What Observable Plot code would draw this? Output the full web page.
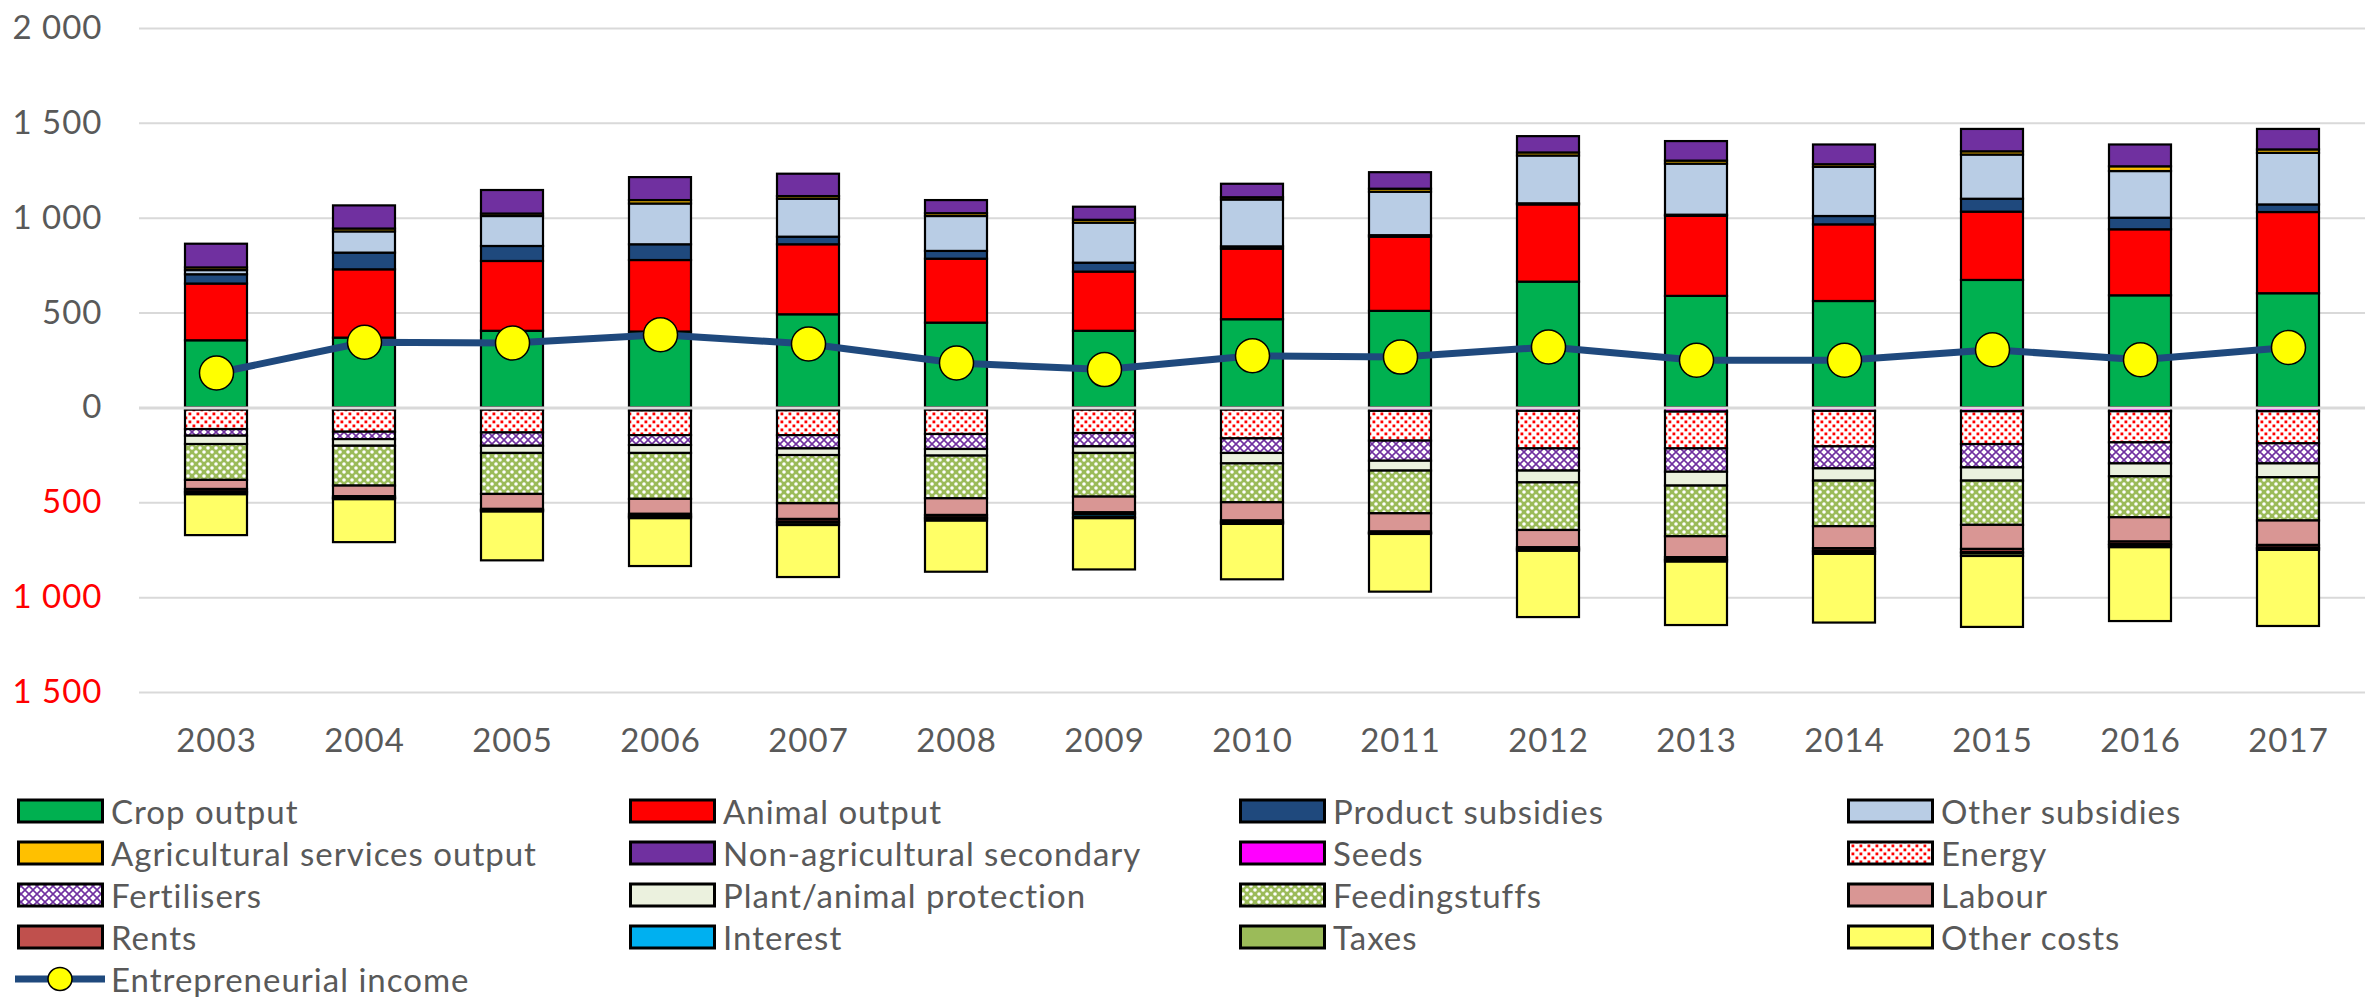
<!DOCTYPE html>
<html><head><meta charset="utf-8">
<script src="https://cdn.jsdelivr.net/npm/d3@7"></script>
<script src="https://cdn.jsdelivr.net/npm/@observablehq/plot@0.6"></script>
<style>
body{margin:0;background:#fff;font-family:Lato, sans-serif;}
#chart svg{display:block}
#legend{position:relative;height:227px;width:2369px;color:#595959;font-size:33px;letter-spacing:1px;font-family:Lato, sans-serif}
.item{position:absolute;height:42px;white-space:nowrap}
.item svg{position:absolute;left:0;top:8px}
.item span{position:absolute;left:94px;top:0;line-height:42px}
</style></head>
<body><div id="chart"></div><div id="legend"></div>
<script>
const years = [2003,2004,2005,2006,2007,2008,2009,2010,2011,2012,2013,2014,2015,2016,2017];

// Outputs (positive stack)
const cropOutput      = [354,368,404,400,491,447,404,465,509,663,588,561,672,591,602];
const animalOutput    = [299,360,368,377,369,337,312,372,391,407,422,404,360,348,428];
const productSubsidies= [49,88,79,83,40,41,47,12,8,6,6,44,68,61,40];
const otherSubsidies  = [22,112,158,215,200,184,211,247,229,252,269,259,233,246,272];
const agriServices    = [14,15,13,18,14,15,15,12,16,16,16,14,17,25,18];
const nonAgriSecondary= [125,122,124,121,118,69,69,71,87,86,103,104,118,115,108];

// Costs (negative stack, given as positive amounts)
const seeds           = [12,12,12,16,15,12,12,12,18,18,22,18,20,20,20];
const energy          = [102,116,120,130,131,128,123,151,157,198,194,187,173,164,169];
const fertilisers     = [35,39,70,52,70,79,70,77,106,117,123,116,123,111,106];
const protection      = [44,35,38,42,35,35,35,55,52,62,73,65,70,68,73];
const feedingstuffs   = [189,210,216,242,254,225,230,205,225,251,267,240,233,216,228];
const labour          = [48,56,79,79,83,88,83,96,96,91,110,116,127,128,129];
const rents           = [13,7,6,10,14,13,9,8,6,8,11,13,16,13,14];
const interest        = [5,3,3,5,6,6,14,4,3,4,5,6,7,6,4];
const taxes           = [10,6,5,8,12,11,8,6,4,7,8,11,14,11,8];
const otherCosts      = [215,226,257,252,274,269,270,292,304,349,334,362,374,389,401];

// Line
const entrepreneurialIncome = [184,346,342,386,337,237,202,275,268,321,251,251,307,254,319];

const yTicksPos = [0,500,1000,1500,2000];
const yTicksNeg = [-500,-1000,-1500];

const seriesDefs = [
  ["Crop output", cropOutput, 1, "#00B050"],
  ["Animal output", animalOutput, 1, "#FF0000"],
  ["Product subsidies", productSubsidies, 1, "#1F497D"],
  ["Other subsidies", otherSubsidies, 1, "#B9CDE5"],
  ["Agricultural services output", agriServices, 1, "#FFC000"],
  ["Non-agricultural secondary", nonAgriSecondary, 1, "#7030A0"],
  ["Seeds", seeds, -1, "#FF00FF"],
  ["Energy", energy, -1, "url(#pat-energy)"],
  ["Fertilisers", fertilisers, -1, "url(#pat-fert)"],
  ["Plant/animal protection", protection, -1, "#EBF1DE"],
  ["Feedingstuffs", feedingstuffs, -1, "url(#pat-feed)"],
  ["Labour", labour, -1, "#D99694"],
  ["Rents", rents, -1, "#C0504D"],
  ["Interest", interest, -1, "#00B0F0"],
  ["Taxes", taxes, -1, "#9BBB59"],
  ["Other costs", otherCosts, -1, "#FFFF66"]
];
const seriesNames = seriesDefs.map(d => d[0]);
const seriesFills = seriesDefs.map(d => d[3]);

const table = [];
years.forEach((yr, i) => {
  seriesDefs.forEach(([name, arr, sign]) => table.push({year: yr, series: name, value: sign * arr[i]}));
});
const incomeData = years.map((yr, i) => ({year: yr, value: entrepreneurialIncome[i]}));

const fmt = d => d3.format(",")(Math.abs(d)).replace(/,/g, " ");

const svg = Plot.plot({
  width: 2369, height: 770,
  marginLeft: 139, marginRight: 4, marginTop: 28, marginBottom: 78,
  style: {fontFamily: "Lato, sans-serif", fontSize: "33px", letterSpacing: "1px", color: "#595959", background: "#fff"},
  x: {type: "band", domain: years, paddingInner: 0.58, paddingOuter: 0.29, label: null},
  y: {domain: [-1500, 2000], label: null},
  color: {type: "ordinal", domain: seriesNames, range: seriesFills},
  marks: [
    Plot.gridY([...yTicksNeg, ...yTicksPos], {stroke: "#d9d9d9", strokeOpacity: 1, strokeWidth: 2}),
    Plot.barY(table, Plot.stackY({x: "year", y: "value", fill: "series", order: seriesNames, stroke: "black", strokeWidth: 2.2})),
    Plot.ruleY([0], {stroke: "#d9d9d9", strokeWidth: 3}),
    Plot.lineY(incomeData, {x: "year", y: "value", stroke: "#1F497D", strokeWidth: 7}),
    Plot.dot(incomeData, {x: "year", y: "value", r: 17, fill: "#FFFF00", stroke: "black", strokeWidth: 1.5}),
    Plot.axisY(yTicksPos, {tickSize: 0, tickPadding: 37, tickFormat: fmt, fill: "#595959", label: null}),
    Plot.axisY(yTicksNeg, {tickSize: 0, tickPadding: 37, tickFormat: fmt, fill: "#FF0000", label: null}),
    Plot.axisX({tickSize: 0, tickPadding: 36, tickFormat: d => String(d), fill: "#595959", label: null})
  ]
});

const defs = d3.select(svg).insert("defs", ":first-child");
// Energy: red dots on white
let p = defs.append("pattern").attr("id", "pat-energy").attr("patternUnits", "userSpaceOnUse").attr("width", 8).attr("height", 8);
p.append("rect").attr("width", 8).attr("height", 8).attr("fill", "#fff");
p.append("rect").attr("x", 0.5).attr("y", 0.5).attr("width", 2.8).attr("height", 2.8).attr("fill", "#FF0000");
p.append("rect").attr("x", 4.5).attr("y", 4.5).attr("width", 2.8).attr("height", 2.8).attr("fill", "#FF0000");
// Fertilisers: purple lattice on white
p = defs.append("pattern").attr("id", "pat-fert").attr("patternUnits", "userSpaceOnUse").attr("width", 8).attr("height", 8);
p.append("rect").attr("width", 8).attr("height", 8).attr("fill", "#fff");
p.append("path").attr("d", "M0,0L8,8M8,0L0,8").attr("stroke", "#7030A0").attr("stroke-width", 1.6);
// Feedingstuffs: green with white dots
p = defs.append("pattern").attr("id", "pat-feed").attr("patternUnits", "userSpaceOnUse").attr("width", 8).attr("height", 8);
p.append("rect").attr("width", 8).attr("height", 8).attr("fill", "#9BBB59");
[[0,0],[8,0],[0,8],[8,8],[4,4]].forEach(([cx, cy]) => p.append("circle").attr("cx", cx).attr("cy", cy).attr("r", 1.8).attr("fill", "#fff"));

document.getElementById("chart").appendChild(svg);

// Legend
const legend = d3.select("#legend");
const colLeft = [17, 629, 1239, 1847];
const rowCenter = [811, 853, 895, 937, 979].map(v => v - 770);
seriesDefs.forEach(([name, , , fill], i) => {
  const row = Math.floor(i / 4), col = i % 4;
  const it = legend.append("div").attr("class", "item").style("left", colLeft[col] + "px").style("top", (rowCenter[row] - 21) + "px");
  const s = it.append("svg").attr("width", 90).attr("height", 26);
  s.append("rect").attr("x", 1.5).attr("y", 2).attr("width", 84).attr("height", 22).attr("fill", fill).attr("stroke", "black").attr("stroke-width", 3);
  it.append("span").text(name);
});
{
  const it = legend.append("div").attr("class", "item").style("left", (colLeft[0] - 2) + "px").style("top", (rowCenter[4] - 21) + "px");
  const s = it.append("svg").attr("width", 96).attr("height", 26);
  s.append("line").attr("x1", 0).attr("x2", 90).attr("y1", 13).attr("y2", 13).attr("stroke", "#1F497D").attr("stroke-width", 7);
  s.append("ellipse").attr("cx", 45).attr("cy", 13).attr("rx", 12).attr("ry", 11.5).attr("fill", "#FFFF00").attr("stroke", "black").attr("stroke-width", 1.5);
  it.append("span").style("left", "96px").text("Entrepreneurial income");
}
</script></body></html>
